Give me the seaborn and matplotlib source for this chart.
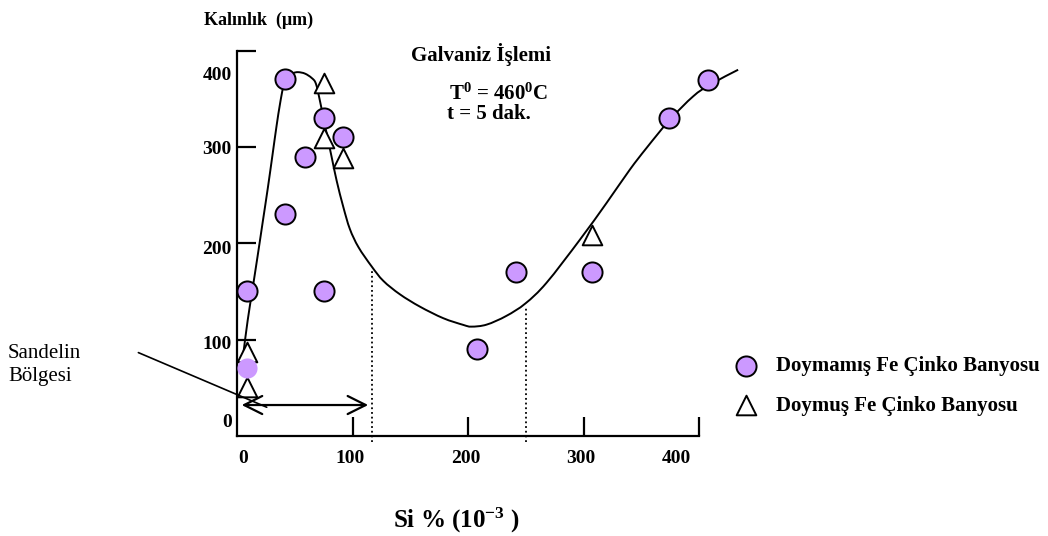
import matplotlib
matplotlib.use("Agg")
import matplotlib.pyplot as plt
from matplotlib.path import Path
from matplotlib.patches import PathPatch
import seaborn as sns

# values
doymamis_x = [41.3, 58.6, 41.3, 75.3, 91.8, 8.7, 75.1, 208.1, 241.3, 307.7, 374.4, 407.8]
doymamis_y = [370.9, 290.3, 230.7, 330.3, 310.5, 150.6, 150.6, 90.5, 170.7, 170.7, 330.3, 370.1]
doymus_x = [75.4, 75.4, 91.9, 8.7, 8.7, 307.7]
doymus_y = [366.7, 309.5, 288.7, 87.4, 51.0, 208.8]
sandelin_x = [8.7]
sandelin_y = [70.1]

# hand drawn trend line
curve_x = [5.5, 9.0, 13.0, 17.5, 22.0, 26.5, 30.5, 34.0, 37.0, 39.8, 44.0, 48.5, 52.8,
           58.6, 64.4, 68.1, 71.8, 75.9, 81.7, 86.1, 91.8, 97.5, 105.0, 116.4, 126.5,
           140.9, 158.2, 178.4, 195.8, 202.9, 216.0, 233.0, 249.6, 267.9, 296.7, 319.8,
           340.0, 354.5, 374.7, 394.9, 409.3, 433.9]
curve_y = [88.0, 120.0, 151.0, 186.0, 222.0, 258.0, 292.0, 322.0, 345.0, 362.0, 373.0,
           377.0, 378.0, 376.5, 372.0, 366.0, 347.0, 323.0, 290.0, 265.0, 238.0, 215.0,
           196.0, 176.0, 161.0, 147.0, 134.2, 122.2, 115.2, 113.4, 115.5, 124.5, 137.5,
           159.0, 203.6, 241.8, 276.5, 299.1, 328.5, 352.8, 364.9, 380.5]

dotted_x = [116.4, 249.7]
dotted_top = [172.0, 134.0]
arrow_x = [3.8, 113.4]
arrow_y = 31.9
pointer_x = [-85.7, 25.5]
pointer_y = [86.4, 29.6]

xticks = [100, 200, 300, 400]
xtick_labels = ["0", "100", "200", "300", "400"]
xlabel_pos = [5, 97.7, 197.8, 297.6, 380]
yticks = [100, 200, 300, 400]
ytick_labels = ["0", "100", "200", "300", "400"]
ylabel_pos = [15.8, 96.4, 195.7, 300, 376.4]

W, H = 1048, 536


def px(x, y):
    return x / W, 1 - y / H


def smooth_path(xs, ys):
    # catmull-rom through the traced points, drawn as bezier segments
    pts = list(zip(xs, ys))
    verts = [pts[0]]
    codes = [Path.MOVETO]
    for i in range(len(pts) - 1):
        p0 = pts[max(i - 1, 0)]
        p1 = pts[i]
        p2 = pts[i + 1]
        p3 = pts[min(i + 2, len(pts) - 1)]
        c1 = (p1[0] + (p2[0] - p0[0]) / 6, p1[1] + (p2[1] - p0[1]) / 6)
        c2 = (p2[0] - (p3[0] - p1[0]) / 6, p2[1] - (p3[1] - p1[1]) / 6)
        verts += [c1, c2, p2]
        codes += [Path.CURVE4] * 3
    return Path(verts, codes)


sns.set_style("white")
plt.rcParams["font.family"] = ["Liberation Serif", "DejaVu Serif"]
plt.rcParams["mathtext.fontset"] = "custom"
plt.rcParams["mathtext.rm"] = "Liberation Serif:bold"
plt.rcParams["mathtext.bf"] = "Liberation Serif:bold"
plt.rcParams["mathtext.it"] = "Liberation Serif:bold"
for key in ["text.color", "axes.labelcolor", "xtick.color", "ytick.color",
            "xtick.labelcolor", "ytick.labelcolor"]:
    plt.rcParams[key] = "black"

fig = plt.figure(figsize=(W / 100, H / 100), dpi=100)
ax = fig.add_axes([237.3 / W, 1 - 435.7 / H, (699 - 237.3) / W, (435.7 - 51) / H])

purple = "#CC99FF"
ax.add_patch(PathPatch(smooth_path(curve_x, curve_y), fill=False, edgecolor="black",
                       lw=1.4, clip_on=False, zorder=2))
sns.scatterplot(x=doymamis_x, y=doymamis_y, marker="o", s=210, color=purple,
                edgecolor="black", linewidth=1.4, ax=ax, clip_on=False, zorder=4,
                label="Doymamış Fe Çinko Banyosu")
sns.scatterplot(x=doymus_x, y=doymus_y, marker="^", s=200, color="white",
                edgecolor="black", linewidth=1.4, ax=ax, clip_on=False, zorder=3,
                label="Doymuş Fe Çinko Banyosu")
sns.scatterplot(x=sandelin_x, y=sandelin_y, marker="o", s=210, color=purple,
                linewidth=0, ax=ax, clip_on=False, zorder=4, legend=False)

for xv, top in zip(dotted_x, dotted_top):
    ax.plot([xv, xv], [-6.2, top], color="black", lw=1.3, ls=(0, (1, 1.6)),
            clip_on=False, zorder=1)

ax.annotate("", xy=(arrow_x[1], arrow_y), xytext=(arrow_x[0], arrow_y),
            arrowprops=dict(arrowstyle="<->,head_length=1.3,head_width=0.65",
                            lw=1.6, color="black", shrinkA=0, shrinkB=0),
            annotation_clip=False, zorder=5)
ax.plot(pointer_x, pointer_y, color="black", lw=1.2, clip_on=False, zorder=5)

ax.set_xlim(0, 400)
ax.set_ylim(0, 400)
for side in ["top", "right"]:
    ax.spines[side].set_visible(False)
for side in ["left", "bottom"]:
    ax.spines[side].set_linewidth(1.6)
    ax.spines[side].set_color("black")

ax.xaxis.remove_overlapping_locs = False
ax.yaxis.remove_overlapping_locs = False
ax.set_xticks(xticks)
ax.set_xticklabels([])
ax.set_yticks(yticks)
ax.set_yticklabels([])
ax.set_xticks(xlabel_pos, xtick_labels, minor=True)
ax.set_yticks(ylabel_pos, ytick_labels, minor=True)
ax.tick_params(which="both", bottom=True, left=True)
ax.tick_params(which="major", direction="in", length=14, width=1.6, color="black")
ax.tick_params(which="minor", length=0, labelsize=14, labelcolor="black")
ax.tick_params(axis="x", which="minor", pad=10)
ax.tick_params(axis="y", which="minor", pad=4)
for lab in ax.get_xticklabels(minor=True) + ax.get_yticklabels(minor=True):
    lab.set_fontweight("bold")
ax.set_xlabel("")
ax.set_ylabel("")

ax.legend(loc="upper left", bbox_to_anchor=px(736, 356), bbox_transform=fig.transFigure,
          frameon=False, borderpad=0, borderaxespad=0, handlelength=1.0,
          handletextpad=0.9, labelspacing=0.95, prop=dict(size=15, weight="bold"))

fig.text(*px(204, 20), "Kalınlık  (μm)", fontsize=13, fontweight="bold", va="center")
fig.text(*px(481, 54), "Galvaniz İşlemi", fontsize=15, fontweight="bold",
         ha="center", va="center")
fig.text(*px(449, 100), r"T$^{0}$ = 460$^{0}$C", fontsize=15, fontweight="bold",
         va="baseline")
fig.text(*px(447, 119), "t = 5 dak.", fontsize=15, fontweight="bold", va="baseline")
fig.text(*px(8, 365), "Sandelin\nBölgesi", fontsize=15, va="center", linespacing=1.3)
fig.text(*px(456, 520), r"Si % (10$^{-3}$ )", fontsize=18, fontweight="bold",
         ha="center", va="center")

fig.savefig("out.png", dpi=100)
